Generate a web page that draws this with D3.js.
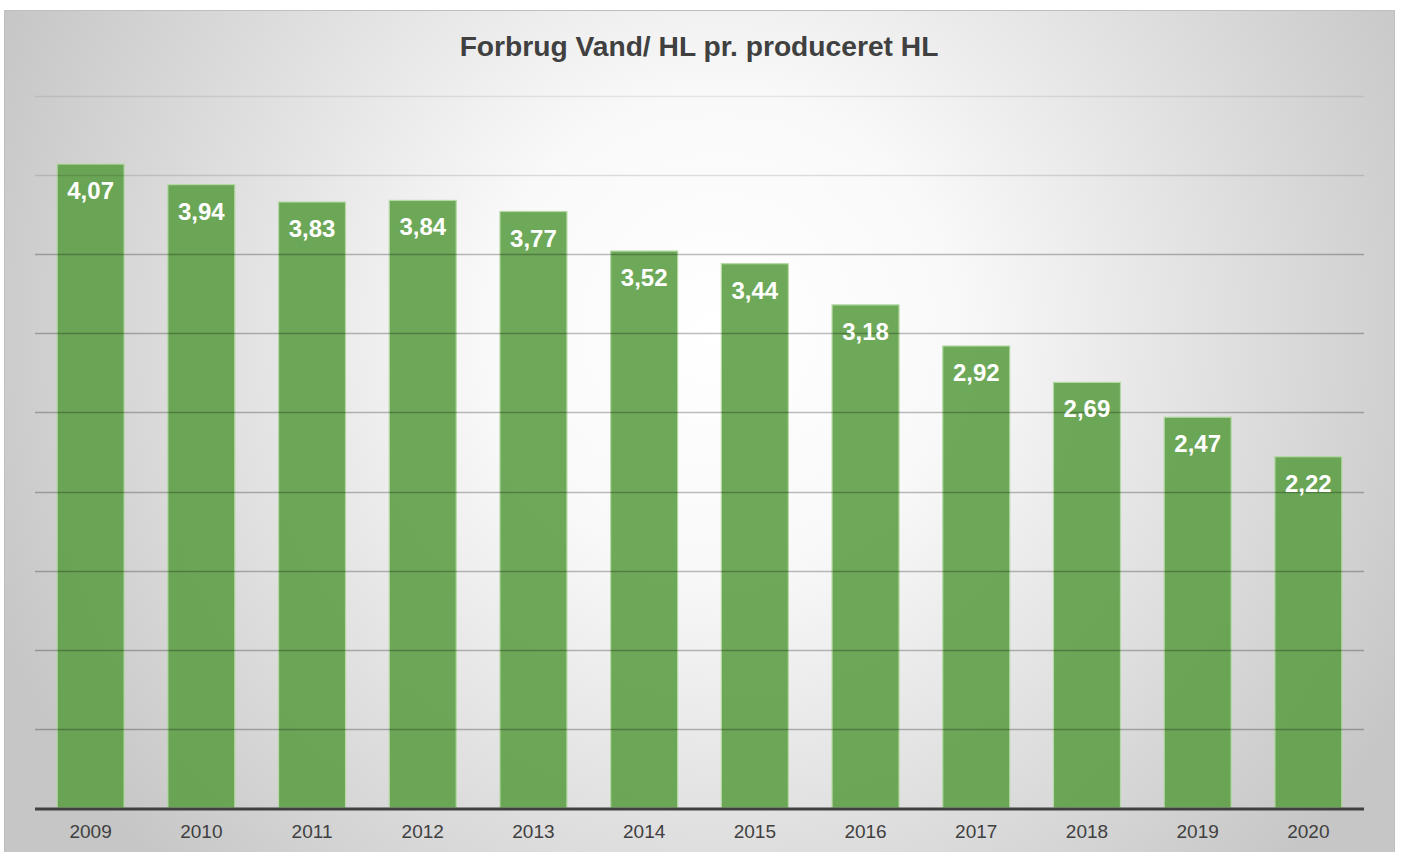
<!DOCTYPE html>
<html>
<head>
<meta charset="utf-8">
<script src="https://cdn.jsdelivr.net/npm/d3@7"></script>
<style>
  body { margin: 0; background: #fff; }
  svg { display: block; font-family: Arial, "Liberation Sans", sans-serif; }
</style>
</head>
<body>
<svg width="1402" height="852"></svg>
<script>
var years = ["2009", "2010", "2011", "2012", "2013", "2014", "2015", "2016", "2017", "2018", "2019", "2020"];
var values = [4.07, 3.94, 3.83, 3.84, 3.77, 3.52, 3.44, 3.18, 2.92, 2.69, 2.47, 2.22];
var gridTicks = [0.5, 1, 1.5, 2, 2.5, 3, 3.5, 4, 4.5];
var title = "Forbrug Vand/ HL pr. produceret HL";

var svg = d3.select("svg");
var margin = {left: 35, right: 38, top: 96, bottom: 44};
var W = 1402, H = 852;

var defs = svg.append("defs");
var grad = defs.append("radialGradient")
    .attr("id", "bg")
    .attr("gradientUnits", "userSpaceOnUse")
    .attr("cx", 720).attr("cy", 330).attr("r", 780);
grad.append("stop").attr("offset", "0").attr("stop-color", "#ffffff");
grad.append("stop").attr("offset", "0.3").attr("stop-color", "#f9f9f9");
grad.append("stop").attr("offset", "1").attr("stop-color", "#c6c6c6");

// chart box
svg.append("rect")
    .attr("x", 4.5).attr("y", 10.5)
    .attr("width", 1390).attr("height", 850)
    .attr("fill", "url(#bg)")
    .attr("stroke", "#bfbfbf")
    .attr("stroke-width", 1);

var x = d3.scaleBand()
    .domain(years)
    .range([margin.left, W - margin.right])
    .paddingInner(0.395)
    .paddingOuter(0.2);

var y = d3.scaleLinear()
    .domain([0, 4.5])
    .range([H - margin.bottom, margin.top]);

// bars
svg.append("g").selectAll("rect")
    .data(values)
    .enter().append("rect")
    .attr("x", function(d, i) { return x(years[i]); })
    .attr("y", function(d) { return y(d); })
    .attr("width", x.bandwidth())
    .attr("height", function(d) { return y(0) - y(d); })
    .attr("fill", "#5ea047")
    .attr("fill-opacity", 0.9)
    .attr("stroke", "#b5d9a5")
    .attr("stroke-width", 1.2);

// gridlines, drawn over bars
svg.append("g").selectAll("line")
    .data(gridTicks)
    .enter().append("line")
    .attr("x1", margin.left)
    .attr("x2", W - margin.right)
    .attr("y1", function(d) { return Math.round(y(d)) + 0.5; })
    .attr("y2", function(d) { return Math.round(y(d)) + 0.5; })
    .attr("stroke", "#000")
    .attr("stroke-opacity", function(d) { return d == 4.5 ? 0.08 : (d == 4 ? 0.12 : 0.26); })
    .attr("stroke-width", 1.3);

// baseline
svg.append("line")
    .attr("x1", margin.left).attr("x2", W - margin.right)
    .attr("y1", y(0) + 1).attr("y2", y(0) + 1)
    .attr("stroke", "#404040")
    .attr("stroke-width", 3);

// x axis labels
var xAxis = d3.axisBottom(x).tickSize(0).tickPadding(17);
var gx = svg.append("g")
    .attr("transform", "translate(0," + y(0) + ")")
    .call(xAxis);
gx.select(".domain").remove();
gx.selectAll("text")
    .attr("fill", "#404040")
    .style("font-size", "19px")
    .style("font-family", "Arial, 'Liberation Sans', sans-serif");

// value labels
svg.append("g").selectAll("text")
    .data(values)
    .enter().append("text")
    .attr("x", function(d, i) { return x(years[i]) + x.bandwidth() / 2; })
    .attr("y", function(d) { return y(d) + 35; })
    .attr("text-anchor", "middle")
    .attr("fill", "#fff")
    .style("font-weight", "bold")
    .style("font-size", "24px")
    .text(function(d) { return d.toFixed(2).replace(".", ","); });

// title
svg.append("text")
    .attr("x", 699)
    .attr("y", 56)
    .attr("text-anchor", "middle")
    .attr("fill", "#404040")
    .style("font-weight", "bold")
    .style("font-size", "28.2px")
    .text(title);
</script>
</body>
</html>
